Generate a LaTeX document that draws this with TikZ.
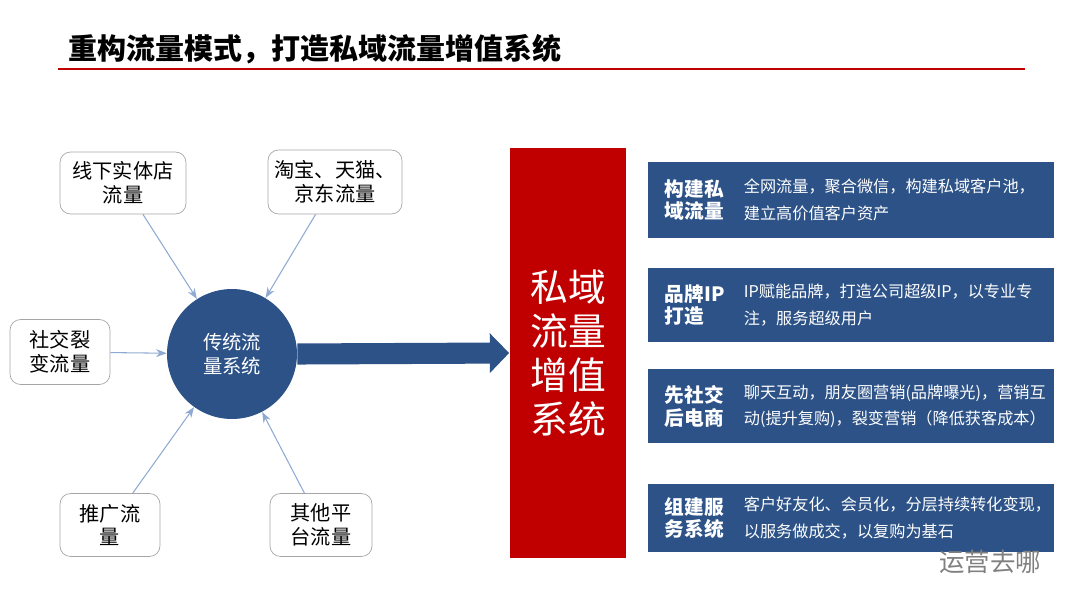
\documentclass[tikz,border=0pt]{standalone}
\usepackage{fontspec}
\setmainfont{Noto Sans CJK SC}
\usetikzlibrary{arrows.meta, positioning}
\definecolor{navy}{RGB}{44, 82, 135}
\definecolor{darkred}{RGB}{192, 0, 0}
\definecolor{thinblue}{RGB}{143, 170, 210}

\begin{document}
\begin{tikzpicture}[
    x=0.02cm, y=-0.02cm,
    source/.style={rectangle, draw=gray!70, rounded corners=6pt, fill=white, align=center, font=\fontsize{11.5}{13.5}\selectfont},
    feature/.style={rectangle, fill=navy, minimum width=8.12cm, minimum height=1.5cm, text=white},
    feed/.style={-{Stealth[length=6pt]}, thinblue, semithick}
]
    \useasboundingbox (0,0) rectangle (1080,608);

    % title
    \node[anchor=west, font=\fontsize{16.5}{19}\selectfont\bfseries] (title) at (62,49) {重构流量模式，打造私域流量增值系统};
    \draw[darkred, line width=1.2pt] (58,69) -- (1025,69);

    % source boxes
    \node[source, minimum width=2.52cm, minimum height=1.24cm] (offline) at (123,183) {线下实体店\\流量};
    \node[source, minimum width=2.68cm, minimum height=1.28cm] (online) at (335,182) {淘宝、天猫、\\京东流量};
    \node[source, minimum width=2.0cm, minimum height=1.3cm] (social) at (60,352) {社交裂\\变流量};
    \node[source, minimum width=2.0cm, minimum height=1.26cm] (promo) at (110,525) {推广流\\量};
    \node[source, minimum width=2.04cm, minimum height=1.26cm] (other) at (321,525) {其他平\\台流量};

    % traditional system
    \node[circle, fill=navy, minimum size=2.6cm, text=white, align=center, font=\fontsize{11}{13.5}\selectfont] (trad) at (232,354) {传统流\\量系统};

    \draw[feed] (offline) -- (trad);
    \draw[feed] (online) -- (trad);
    \draw[feed] (social) -- (trad);
    \draw[feed] (promo) -- (trad);
    \draw[feed] (other) -- (trad);

    % private domain system
    \node[rectangle, fill=darkred, minimum width=2.34cm, minimum height=8.2cm, text=white, align=center, font=\fontsize{21.5}{25}\selectfont] (priv) at (568,353) {私域\\流量\\增值\\系统};

    \draw[navy, line width=12pt, -{Triangle[length=11pt, width=22pt]}] (trad.east) -- (priv.west);

    % feature boxes
    \node[feature, minimum height=1.52cm] (f1) at (851,200) {};
    \node[feature] (f2) at (851,305) {};
    \node[feature] (f3) at (851,406) {};
    \node[feature, minimum height=1.38cm] (f4) at (851,518) {};

    \foreach \f/\head/\body in {f1/{构建私\\域流量}/{全网流量，聚合微信，构建私域客户池，\\建立高价值客户资产},
                                f2/{品牌IP\\打造}/{IP赋能品牌，打造公司超级IP，以专业专\\注，服务超级用户},
                                f3/{先社交\\后电商}/{聊天互动，朋友圈营销(品牌曝光)，营销互\\动(提升复购)，裂变营销（降低获客成本）},
                                f4/{组建服\\务系统}/{客户好友化、会员化，分层持续转化变现，\\以服务做成交，以复购为基石}}{
        \node[anchor=west, text=white, align=left, font=\fontsize{11.2}{13}\selectfont\bfseries] at ([xshift=0.22cm]\f.west) {\head};
        \node[anchor=west, text=white, align=left, font=\fontsize{9.2}{15}\selectfont] at ([xshift=1.8cm]\f.west) {\body};
    }

    % watermark
    \node[text=gray, font=\fontsize{14.5}{16}\selectfont] (mark) at (990,562) {运营去哪};
\end{tikzpicture}
\end{document}
